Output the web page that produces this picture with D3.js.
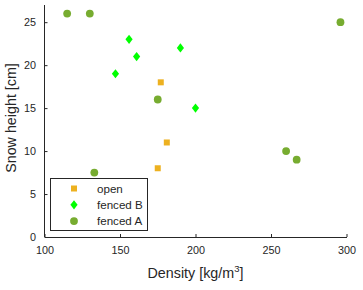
<!DOCTYPE html>
<html>
<head>
<meta charset="utf-8">
<script src="https://cdn.jsdelivr.net/npm/d3@7"></script>
<style>
  body { margin: 0; background: #fff; }
  svg { font-family: "Liberation Sans", Arial, sans-serif; }
</style>
</head>
<body>
<svg id="chart" width="363" height="290"></svg>
<script>
const openX = [177, 181, 175];
const openY = [18, 11, 8];
const fencedBX = [156, 161, 147, 190, 200];
const fencedBY = [23, 21, 19, 22, 15];
const fencedAX = [115, 130, 296, 175, 260, 267, 133];
const fencedAY = [26, 26, 25, 16, 10, 9, 7.5];
const xTicks = [100, 150, 200, 250, 300];
const yTicks = [0, 5, 10, 15, 20, 25];

const width = 363;
const height = 290;
const margin = { t: 5, r: 16.5, b: 53, l: 44.5 };

const svg = d3.select("#chart");
const axisColor = "#262626";

const x = d3.scaleLinear().domain([100, 300]).range([margin.l, width - margin.r]);
const y = d3.scaleLinear().domain([0, 27]).range([height - margin.b, margin.t]);

// axes (ticks inward, no box)
const gx = svg.append("g")
  .attr("transform", `translate(0,${height - margin.b})`)
  .call(d3.axisBottom(x).tickValues(xTicks).tickSize(-3).tickSizeOuter(0).tickPadding(9));
const gy = svg.append("g")
  .attr("transform", `translate(${margin.l},0)`)
  .call(d3.axisLeft(y).tickValues(yTicks).tickSize(-3).tickSizeOuter(0).tickPadding(8.5));

[gx, gy].forEach((g) => {
  g.select(".domain").attr("stroke", axisColor);
  g.selectAll(".tick line").attr("stroke", axisColor);
  g.selectAll(".tick text").attr("fill", axisColor).attr("font-size", 10.8)
    .attr("font-family", "Liberation Sans, Arial, sans-serif");
});
gy.select(".domain").attr("d", `M0,${y(0)}V${margin.t}`);

// axis labels
const xl = svg.append("text")
  .attr("x", x(200))
  .attr("y", 278)
  .attr("text-anchor", "middle")
  .attr("fill", axisColor)
  .attr("font-size", 14.3);
xl.append("tspan").text("Density [kg/m");
xl.append("tspan").attr("font-size", 9.5).attr("dy", -6).text("3");
xl.append("tspan").attr("dy", 6).text("]");

svg.append("text")
  .attr("transform", `translate(15.5,118) rotate(-90)`)
  .attr("text-anchor", "middle")
  .attr("fill", axisColor)
  .attr("font-size", 14.3)
  .text("Snow height [cm]");

const cOpen = "#EDB120";
const cB = "#00FF00";
const cA = "#77AC30";

const diamond = (cx, cy) => `M${cx},${cy - 4.6}L${cx + 3.6},${cy}L${cx},${cy + 4.6}L${cx - 3.6},${cy}Z`;

const drawOpen = (g, cx, cy) => g.append("rect")
  .attr("x", cx - 3).attr("y", cy - 3).attr("width", 6).attr("height", 6).attr("fill", cOpen);
const drawB = (g, cx, cy) => g.append("path").attr("d", diamond(cx, cy)).attr("fill", cB);
const drawA = (g, cx, cy) => g.append("circle").attr("cx", cx).attr("cy", cy).attr("r", 3.9).attr("fill", cA);

const marks = svg.append("g");
openX.forEach((v, i) => drawOpen(marks, x(v), y(openY[i])));
fencedBX.forEach((v, i) => drawB(marks, x(v), y(fencedBY[i])));
fencedAX.forEach((v, i) => drawA(marks, x(v), y(fencedAY[i])));

// legend
const legend = svg.append("g");
legend.append("rect")
  .attr("x", 50.5).attr("y", 178.5).attr("width", 97).attr("height", 52)
  .attr("fill", "#fff").attr("stroke", axisColor).attr("stroke-width", 1);
const items = [
  { name: "open", draw: drawOpen },
  { name: "fenced B", draw: drawB },
  { name: "fenced A", draw: drawA },
];
items.forEach((d, i) => {
  const cy = 188.5 + i * 16.3;
  d.draw(legend, 74, cy);
  legend.append("text")
    .attr("x", 97).attr("y", cy + 4)
    .attr("fill", axisColor)
    .attr("font-size", 11.6)
    .text(d.name);
});
</script>
</body>
</html>
